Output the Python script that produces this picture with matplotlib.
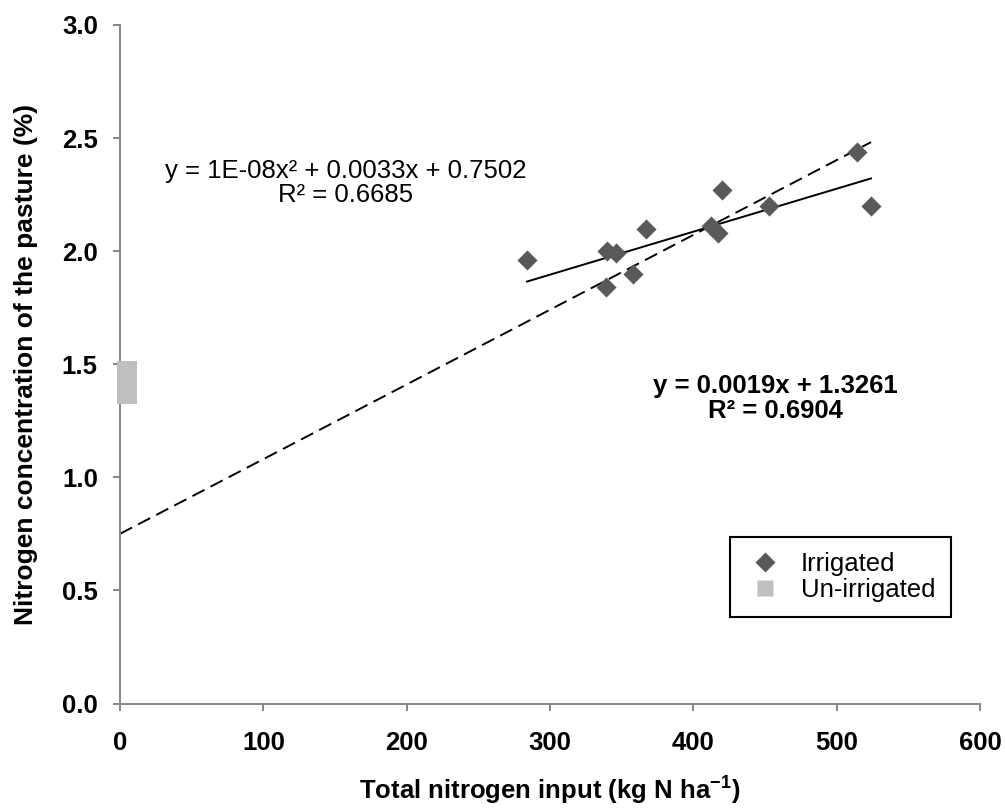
import numpy as np
import matplotlib.pyplot as plt
from matplotlib.lines import Line2D

plt.rcParams['font.family'] = ['Liberation Sans', 'DejaVu Sans']
plt.rcParams['mathtext.fontset'] = 'custom'
plt.rcParams['mathtext.rm'] = 'Liberation Sans'
plt.rcParams['mathtext.bf'] = 'Liberation Sans:bold'

# Irrigated paddocks
irr_n = [284, 340, 346, 339, 358, 367, 412, 417, 420, 453, 524, 514]
irr_conc = [1.96, 2.00, 1.99, 1.84, 1.90, 2.10, 2.11, 2.08, 2.27, 2.20, 2.20, 2.44]

# Un-irrigated paddocks
unirr_n = [5, 5, 5, 5, 5]
unirr_conc = [1.37, 1.39, 1.42, 1.44, 1.47]

# Trendline coefficients
lin_slope, lin_int = 0.0019, 1.3261
quad_a, quad_b, quad_c = 1e-08, 0.0033, 0.7502

grey = '#868686'
dark = '#595959'
light = '#bfbfbf'
fs = 18.5

fig = plt.figure(figsize=(10.05, 8.09), dpi=100)
ax = fig.add_axes([0.1194, 0.1304, 0.8557, 0.8387])

ax.scatter(unirr_n, unirr_conc, marker='s', s=199, color=light,
           linewidths=0, zorder=3, clip_on=False)
ax.scatter(irr_n, irr_conc, marker='D', s=105, color=dark,
           linewidths=0, zorder=3)

# Linear fit over the irrigated range
xl = np.linspace(min(irr_n), max(irr_n), 50)
ax.plot(xl, lin_slope * xl + lin_int, color='black', lw=1.4, zorder=2)

# Polynomial fit projected back to zero input
xq = np.linspace(0, max(irr_n), 100)
ax.plot(xq, quad_a * xq**2 + quad_b * xq + quad_c, color='black', lw=1.4,
        dashes=(7, 3.5), zorder=2)

ax.text(157.7, 2.303, 'y = 1E-08x² + 0.0033x + 0.7502\nR² = 0.6685',
        ha='center', va='center', fontsize=fs, linespacing=1.0)
ax.text(457.3, 1.348, 'y = 0.0019x + 1.3261\nR² = 0.6904',
        ha='center', va='center', fontsize=fs, fontweight='bold',
        linespacing=1.05)

ax.set_xlim(0, 600)
ax.set_ylim(0, 3.0)
ax.set_xticks(np.arange(0, 601, 100))
ax.set_yticks(np.arange(0, 3.01, 0.5))
ax.set_yticklabels([f'{v:.1f}' for v in np.arange(0, 3.01, 0.5)])

for side in ['top', 'right']:
    ax.spines[side].set_visible(False)
for side in ['left', 'bottom']:
    ax.spines[side].set_color(grey)
    ax.spines[side].set_linewidth(1.4)
ax.tick_params(direction='out', length=5, width=1.4, color=grey,
               labelsize=fs)
ax.tick_params(axis='x', pad=15)
ax.tick_params(axis='y', pad=11)
for lab in ax.get_xticklabels() + ax.get_yticklabels():
    lab.set_fontweight('bold')

ax.set_xlabel(r'Total nitrogen input (kg N ha$^{\mathbf{-1}}$)',
              fontsize=fs, fontweight='bold')
ax.set_ylabel('Nitrogen concentration of the pasture (%)',
              fontsize=19, fontweight='bold')
ax.xaxis.set_label_coords(0.5, -0.103)
ax.yaxis.set_label_coords(-0.095, 0.5)

handles = [
    Line2D([], [], ls='none', marker='D', ms=10.2, mfc=dark, mec='none'),
    Line2D([], [], ls='none', marker='s', ms=11.5, mfc=light, mec='none'),
]
leg = fig.legend(handles, ['Irrigated', 'Un-irrigated'], loc='upper left',
                 bbox_to_anchor=(730 / 1005, 1 - 537 / 809),
                 borderaxespad=0, fontsize=fs, frameon=True, fancybox=False,
                 edgecolor='black', framealpha=1, borderpad=0.6,
                 labelspacing=0.05, handlelength=1.5, handletextpad=0.65)
leg.get_frame().set_linewidth(1.5)

fig.savefig('out.png', dpi=100)
